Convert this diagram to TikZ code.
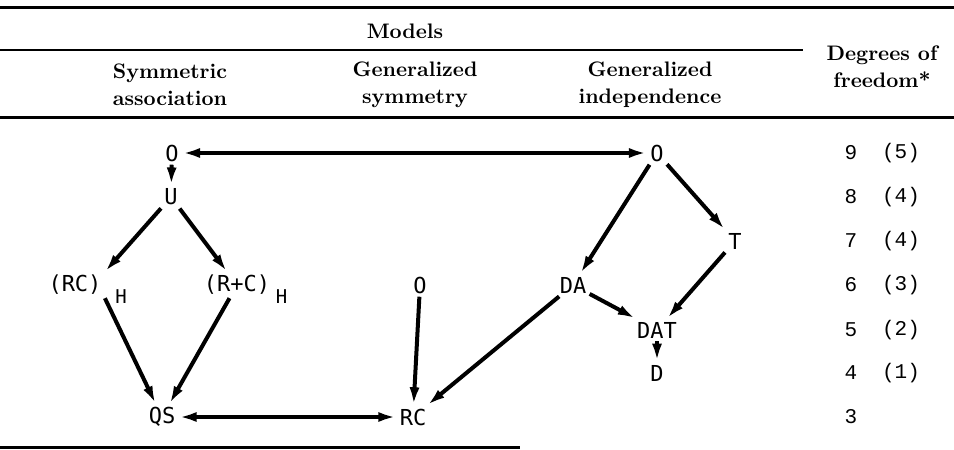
\documentclass[tikz,border=0pt]{standalone}
\usepackage{fontspec}
\newfontfamily\graphfont{DejaVu Sans Mono}
\newfontfamily\dffont{Liberation Mono}
\usetikzlibrary{arrows.meta}
\usetikzlibrary{calc}

\begin{document}
\begin{tikzpicture}[x=0.5pt,y=-0.5pt,
		model/.style={inner sep=1.5pt, font=\graphfont\fontsize{11}{11}\selectfont},
		hsub/.style={inner sep=0pt, anchor=west, font=\graphfont\fontsize{9.5}{9.5}\selectfont},
		colhead/.style={align=center, font=\bfseries\fontsize{10.5}{13.5}\selectfont},
		dfree/.style={font=\dffont\fontsize{10.5}{10.5}\selectfont},
		arr/.style={line width=2pt, -{Latex[length=9pt,width=5pt]}},
		darr/.style={line width=2pt, {Latex[length=9pt,width=5pt]}-{Latex[length=9pt,width=5pt]}}]
	
	\useasboundingbox (0,0) rectangle (954,450);
	
	% table rules
	\draw[line width=1.5pt] (0,7) -- (954,7);
	\draw[line width=1pt] (0,50) -- (803,50);
	\draw[line width=1.5pt] (0,117) -- (954,117);
	\draw[line width=1.5pt] (0,447) -- (520,447);
	
	% headings
	\node[colhead] (models) at (405,31) {Models};
	\node[colhead] (symass) at (170,85) {Symmetric\\association};
	\node[colhead] (gensym) at (415,85) {Generalized\\symmetry};
	\node[colhead] (genind) at (650,85) {Generalized\\independence};
	\node[colhead] (degfree) at (882,67) {Degrees of\\freedom*};
	
	% symmetric association
	\node[model] (o1) at (172,153) {O};
	\node[model] (u) at (171,197) {U};
	\node[model] (rch) at (75,285) {(RC)};
	\node[hsub] (rchsub) at ([xshift=5pt,yshift=-6pt]rch.east) {H};
	\node[model] (rpch) at (237,285) {(R+C)};
	\node[hsub] (rpchsub) at ([xshift=1pt,yshift=-6pt]rpch.east) {H};
	\node[model] (qs) at (162,417) {QS};
	
	% generalized symmetry
	\node[model] (o2) at (420,285) {O};
	\node[model] (rc) at (413,417) {RC};
	
	% generalized independence
	\node[model] (o3) at (657,153) {O};
	\node[model] (t) at (735,241) {T};
	\node[model] (da) at (573,285) {DA};
	\node[model] (dat) at (657,330) {DAT};
	\node[model] (d) at (657,373) {D};
	
	% degrees of freedom
	\node[dfree] (df9) at (851,153) {9}; \node[dfree] (pf9) at (901,153) {(5)};
	\node[dfree] (df8) at (851,197) {8}; \node[dfree] (pf8) at (901,197) {(4)};
	\node[dfree] (df7) at (851,241) {7}; \node[dfree] (pf7) at (901,241) {(4)};
	\node[dfree] (df6) at (851,285) {6}; \node[dfree] (pf6) at (901,285) {(3)};
	\node[dfree] (df5) at (851,330) {5}; \node[dfree] (pf5) at (901,330) {(2)};
	\node[dfree] (df4) at (851,373) {4}; \node[dfree] (pf4) at (901,373) {(1)};
	\node[dfree] (df3) at (851,417) {3};
	
	% arrows
	\draw[darr] (o1) -- (o3);
	\draw[arr] (o1) -- (u);
	\draw[arr] (u) -- (rch.north east);
	\draw[arr] (u) -- (rpch);
	\draw[arr] (rch.south east) -- (qs);
	\draw[arr] (rpch) -- (qs);
	\draw[darr] (qs) -- (rc);
	\draw[arr] (o2) -- (rc);
	\draw[arr] (da) -- (rc);
	\draw[arr] (o3) -- (da);
	\draw[arr] (o3) -- (t);
	\draw[arr] (t) -- (dat);
	\draw[arr] (da) -- (dat);
	\draw[arr] (dat) -- (d);
	
\end{tikzpicture}
\end{document}
